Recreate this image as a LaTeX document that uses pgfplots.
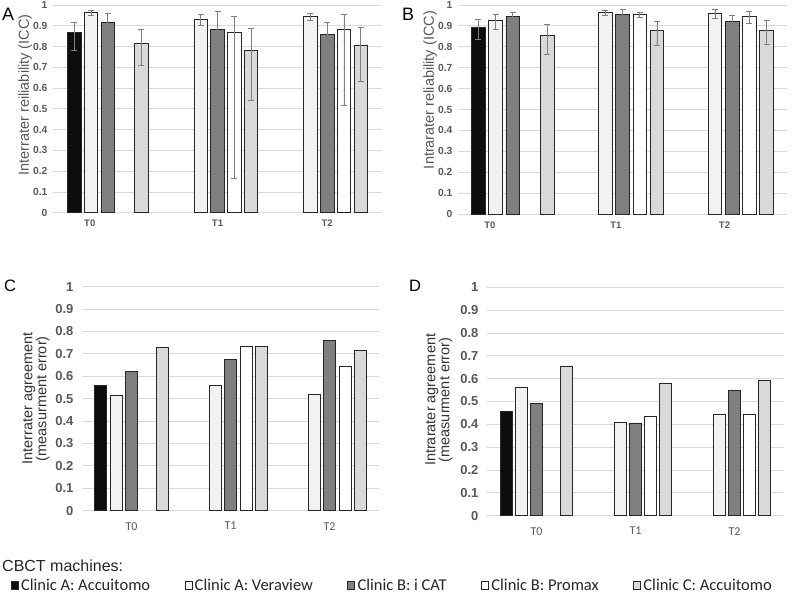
\documentclass[border=0pt]{standalone}
\usepackage{fontspec}
\setmainfont{Liberation Sans}
\newfontfamily\carlito{Carlito}
\usepackage{pgfplots}
\pgfplotsset{compat=1.18}
\definecolor{cAA}{HTML}{0D0D0D}
\definecolor{cAV}{HTML}{F2F2F2}
\definecolor{cBI}{HTML}{7F7F7F}
\definecolor{cBP}{HTML}{FFFFFF}
\definecolor{cCA}{HTML}{D9D9D9}
\definecolor{edge}{HTML}{262626}
\definecolor{gridc}{HTML}{D9D9D9}
\definecolor{tickc}{HTML}{595959}
\definecolor{errc}{HTML}{7F7F7F}
\pgfplotsset{
  common/.style={
    scale only axis, clip=false,
    ymin=0, ymax=1, xmin=-0.5, xmax=2.5,
    ytick={0,0.1,0.2,0.3,0.4,0.5,0.6,0.7,0.8,0.9,1},
    yticklabels={0,0.1,0.2,0.3,0.4,0.5,0.6,0.7,0.8,0.9,1},
    ymajorgrids, grid style={color=gridc, line width=0.8pt},
    axis line style={draw=none}, major tick length=0pt,
    xticklabels={T0,T1,T2},
    /pgf/number format/assume math mode=true,
  },
  panelAB/.style={common, ybar=3.4pt, bar width=13.4pt,
    yticklabel style={font=\bfseries\fontsize{10.3}{11}\selectfont, text=tickc, xshift=-2pt},
    xticklabel style={font=\bfseries\fontsize{9.5}{10}\selectfont, text=tickc, yshift=-4pt},
    ylabel style={font=\fontsize{14.5}{15}\selectfont, text=tickc, anchor=center},
  },
  panelCD/.style={common, ybar=3.4pt, bar width=12pt,
    yticklabel style={font=\bfseries\fontsize{13}{14}\selectfont, text=tickc, xshift=-5pt},
    xticklabel style={font=\carlito\fontsize{12}{12}\selectfont, text=tickc, yshift=-8pt},
    ylabel style={font=\fontsize{14.5}{14}\selectfont, text=black!80, anchor=center, align=center},
  },
  sAA/.style={fill=cAA, draw=edge, line width=0.7pt},
  sAV/.style={fill=cAV, draw=edge, line width=0.7pt},
  sBI/.style={fill=cBI, draw=edge, line width=0.7pt},
  sBP/.style={fill=cBP, draw=edge, line width=0.7pt},
  sCA/.style={fill=cCA, draw=edge, line width=0.7pt},
  eb/.style={error bars/.cd, y dir=both, y explicit,
    error bar style={color=errc, line width=0.7pt},
    error mark options={color=errc, line width=0.7pt, mark size=3pt, rotate=90}},
}
\begin{document}
\begin{tikzpicture}
\useasboundingbox (0,0) rectangle (800pt,596pt);
\fill[white] (0,0) rectangle (800pt,596pt);

% ---------- Panel A ----------
\begin{axis}[panelAB, at={(53pt,383.3pt)}, anchor=south west,
  width=329pt, height=207.7pt,
  xtick={-0.165,1,2},
  ylabel={Interrater reiliability (ICC)},
  ylabel style={at={(axis description cs:-0.085,0.567)}}]
\addplot[sAA, eb] coordinates {(0,0.867) += (0,0.050) -= (0,0.084)};
\addplot[sAV, eb] coordinates {(0,0.963) += (0,0.013) -= (0,0.014)
  (1,0.933) += (0,0.020) -= (0,0.029) (2,0.944) += (0,0.014) -= (0,0.019)};
\addplot[sBI, eb] coordinates {(0,0.915) += (0,0.045) -= (0,0.135)
  (1,0.884) += (0,0.084) -= (0,0.322) (2,0.859) += (0,0.056) -= (0,0.121)};
\addplot[sBP, eb] coordinates {(1,0.867) += (0,0.080) -= (0,0.700)
  (2,0.884) += (0,0.073) -= (0,0.367)};
\addplot[sCA, eb] coordinates {(0,0.814) += (0,0.067) -= (0,0.106)
  (1,0.782) += (0,0.104) -= (0,0.239) (2,0.807) += (0,0.084) -= (0,0.173)};
\end{axis}

% ---------- Panel B ----------
\begin{axis}[panelAB, at={(458pt,382pt)}, anchor=south west,
  width=329pt, height=209pt, bar width=13.7pt, ybar=3.5pt,
  xtick={-0.21,0.94,1.93},
  ylabel={Intrarater reliability (ICC)},
  ylabel style={at={(axis description cs:-0.085,0.593)}}]
\addplot[sAA, eb] coordinates {(0,0.893) += (0,0.040) -= (0,0.057)};
\addplot[sAV, eb] coordinates {(0,0.928) += (0,0.027) -= (0,0.044)
  (1,0.965) += (0,0.009) -= (0,0.013) (2,0.962) += (0,0.017) -= (0,0.027)};
\addplot[sBI, eb] coordinates {(0,0.947) += (0,0.016) -= (0,0.019)
  (1,0.955) += (0,0.024) -= (0,0.044) (2,0.923) += (0,0.026) -= (0,0.031)};
\addplot[sBP, eb] coordinates {(1,0.954) += (0,0.009) -= (0,0.013)
  (2,0.947) += (0,0.021) -= (0,0.036)};
\addplot[sCA, eb] coordinates {(0,0.853) += (0,0.056) -= (0,0.089)
  (1,0.877) += (0,0.046) -= (0,0.068) (2,0.880) += (0,0.045) -= (0,0.067)};
\end{axis}

% ---------- Panel C ----------
\begin{axis}[panelCD, at={(82pt,85.3pt)}, anchor=south west,
  width=297pt, height=224pt,
  xtick={0,1,2},
  ylabel={Interrater agreement\\(measurment error)},
  ylabel style={at={(axis description cs:-0.155,0.50)}},
  legend image code/.code={\draw[#1,/tikz/.cd,line width=0.6pt] (0pt,-4pt) rectangle (7pt,4pt);},
  legend columns=5,
  legend style={at={(axis description cs:-0.24,-0.335)}, anchor=west,
    draw=none, fill=none, inner sep=0pt,
    font=\carlito\fontsize{16.5}{17}\selectfont, text=black!85,
    /tikz/every odd column/.append style={column sep=2pt},
    /tikz/every even column/.append style={column sep=34pt},
    nodes={inner sep=0.5pt}}]
\addplot[sAA] coordinates {(0,0.561)};
\addlegendentry{Clinic A: Accuitomo}
\addplot[sAV] coordinates {(0,0.513) (1,0.561) (2,0.519)};
\addlegendentry{Clinic A: Veraview}
\addplot[sBI] coordinates {(0,0.621) (1,0.677) (2,0.760)};
\addlegendentry{Clinic B: i CAT}
\addplot[sBP] coordinates {(1,0.734) (2,0.646)};
\addlegendentry{Clinic B: Promax}
\addplot[sCA] coordinates {(0,0.729) (1,0.734) (2,0.717)};
\addlegendentry{Clinic C: Accuitomo}
\end{axis}

% ---------- Panel D ----------
\begin{axis}[panelCD, at={(487pt,80.3pt)}, anchor=south west,
  width=297pt, height=228.4pt, bar width=11.7pt, ybar=3.3pt,
  xtick={0,1,2},
  ylabel={Intrarater agreement\\(measurment error)},
  ylabel style={at={(axis description cs:-0.162,0.507)}}]
\addplot[sAA] coordinates {(0,0.458)};
\addplot[sAV] coordinates {(0,0.561) (1,0.407) (2,0.445)};
\addplot[sBI] coordinates {(0,0.491) (1,0.406) (2,0.550)};
\addplot[sBP] coordinates {(1,0.436) (2,0.444)};
\addplot[sCA] coordinates {(0,0.655) (1,0.581) (2,0.591)};
\end{axis}

% panel letters and legend title
\node[font=\fontsize{18}{18}\selectfont, anchor=west, inner sep=0pt] at (2pt,582pt) {A};
\node[font=\fontsize{18}{18}\selectfont, anchor=west, inner sep=0pt] at (402pt,582pt) {B};
\node[font=\fontsize{16.5}{17}\selectfont, anchor=west, inner sep=0pt] at (4pt,310pt) {C};
\node[font=\fontsize{16.5}{17}\selectfont, anchor=west, inner sep=0pt] at (409pt,310pt) {D};
\node[font=\fontsize{16}{16}\selectfont, anchor=west, inner sep=0pt, text=black!85] at (2pt,30pt) {CBCT machines:};
\end{tikzpicture}
\end{document}
